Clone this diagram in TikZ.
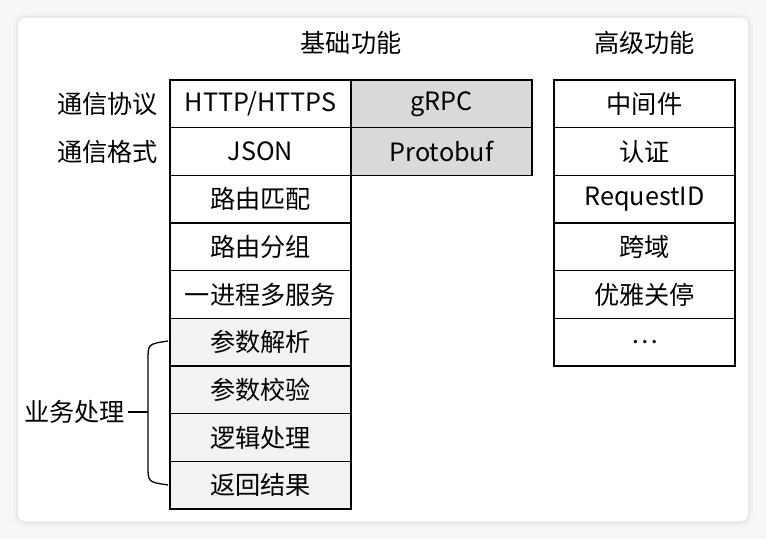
\documentclass[tikz,border=0pt]{standalone}
\usepackage{fontspec}
\setmainfont{Noto Sans CJK SC}
\usetikzlibrary{positioning}

\definecolor{protogray}{HTML}{D9D9D9}
\definecolor{bizgray}{HTML}{F2F2F2}
\definecolor{pagegray}{HTML}{F7F7F7}

\tikzset{
    cell/.style = {draw, line width = 1.1pt, outer sep = 0pt, minimum width = 5.43cm, minimum height = 1.43cm, inner sep = 0pt, font = \fontsize{21.5}{25}\selectfont},
    sidetxt/.style = {inner sep = 0pt, font = \fontsize{21.5}{25}\selectfont}
}

\begin{document}
\begin{tikzpicture}[x = 0.03cm, y = -0.03cm]
    \useasboundingbox (0, 0) rectangle (766, 539);
    \fill[pagegray] (0, 0) rectangle (766, 539);
    \fill[gray!10, rounded corners = 10pt] (13, 13) rectangle (753, 527);
    \fill[gray!18, rounded corners = 8pt] (16, 16) rectangle (750, 524);
    \fill[white, rounded corners = 6pt] (18, 18) rectangle (748, 521);

    \node[sidetxt] (basic) at (351, 43){基础功能};
    \node[sidetxt] (adv) at (644.5, 43){高级功能};

    \node[cell] (http) at (260.5, 103.8){HTTP/HTTPS};
    \node[cell, below = 0pt of http] (json){JSON};
    \node[cell, below = 0pt of json] (match){路由匹配};
    \node[cell, below = 0pt of match] (group){路由分组};
    \node[cell, below = 0pt of group] (multi){一进程多服务};
    \node[cell, fill = bizgray, below = 0pt of multi] (parse){参数解析};
    \node[cell, fill = bizgray, below = 0pt of parse] (valid){参数校验};
    \node[cell, fill = bizgray, below = 0pt of valid] (logic){逻辑处理};
    \node[cell, fill = bizgray, below = 0pt of logic] (result){返回结果};

    \node[cell, fill = protogray, right = 0pt of http] (grpc){gRPC};
    \node[cell, fill = protogray, below = 0pt of grpc] (pbuf){Protobuf};

    \node[cell] (mw) at (644.5, 103.8){中间件};
    \node[cell, below = 0pt of mw] (auth){认证};
    \node[cell, below = 0pt of auth] (reqid){RequestID};
    \node[cell, below = 0pt of reqid] (cors){跨域};
    \node[cell, below = 0pt of cors] (stop){优雅关停};
    \node[cell, below = 0pt of stop] (more){\dots};

    \node[sidetxt, left = 0.36cm of http] (commtag){通信协议};
    \node[sidetxt, left = 0.36cm of json] (fmttag){通信格式};
    \node[sidetxt, anchor = east] (biztag) at (125, 412){业务处理};

    % brace round the business rows
    \coordinate (btop) at (168, 341);
    \coordinate (bbot) at (168, 485);
    \coordinate (bmid) at (148, 412);
    \draw[line width = 1.1pt] (btop) .. controls (148, 344) .. (148, 360) -- (148, 466) .. controls (148, 482) .. (bbot);
    \draw[line width = 1.1pt] (biztag.east) ++(3, 0) -- (bmid);
\end{tikzpicture}
\end{document}
